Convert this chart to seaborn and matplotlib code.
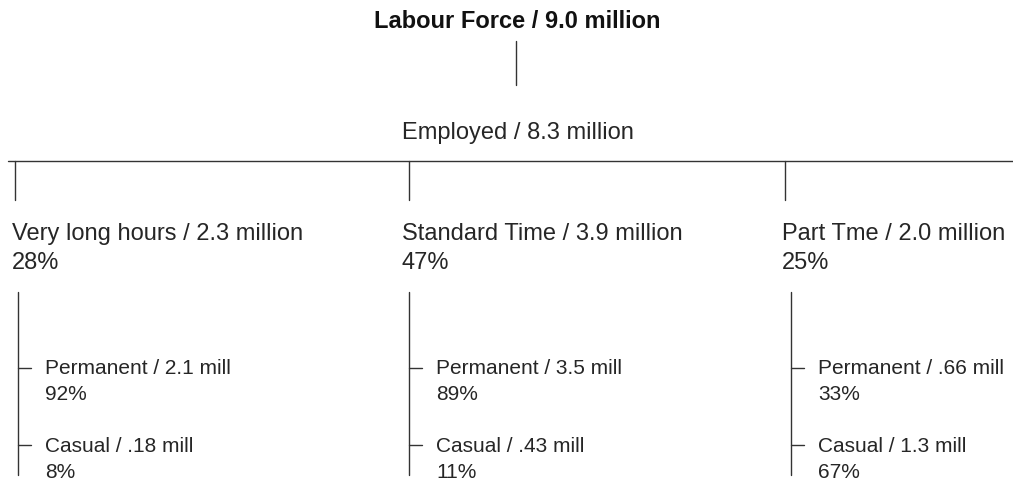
import matplotlib
matplotlib.use("Agg")
import matplotlib.pyplot as plt
import seaborn as sns

# tree data
root_label = "Labour Force"
root_value = 9.0
employed_label = "Employed"
employed_value = 8.3

groups = ["Very long hours", "Standard Time", "Part Tme"]
group_values = [2.3, 3.9, 2.0]
group_pct = [28, 47, 25]

sub_labels = ["Permanent", "Casual"]
sub_values = [["2.1", ".18"], ["3.5", ".43"], [".66", "1.3"]]
sub_pct = [[92, 8], [89, 11], [33, 67]]

sns.set_theme(style="white")
plt.rcParams["font.family"] = ["Liberation Sans", "DejaVu Sans"]

W, H = 1013, 482
fig = plt.figure(figsize=(W / 100, H / 100), dpi=100)
ax = fig.add_axes([0, 0, 1, 1])
ax.set_xlim(0, W)
ax.set_ylim(H, 0)
ax.axis("off")

txt = "#262626"
ln = "#333333"
lw = 1.0

# root
ax.text(517, 21, f"{root_label} / {root_value:.1f} million", ha="center", va="center",
        fontsize=17, fontweight="bold", color="#111111")
ax.plot([516, 516], [41, 85], color=ln, lw=lw)

# employed
ax.text(518, 133, f"{employed_label} / {employed_value:.1f} million", ha="center", va="center",
        fontsize=17, color=txt)
ax.plot([8, W], [161, 161], color=ln, lw=lw)

# horizontal layout of the three branches
tick_x = [15, 409, 785]
label_x = [12, 402, 782]
stem_x = [18, 409, 791]

for i, g in enumerate(groups):
    ax.plot([tick_x[i], tick_x[i]], [161, 200], color=ln, lw=lw)
    ax.text(label_x[i], 234, f"{g} / {group_values[i]:.1f} million", ha="left", va="center",
            fontsize=17, color=txt)
    ax.text(label_x[i], 263, f"{group_pct[i]}%", ha="left", va="center", fontsize=17, color=txt)

    # sub branches
    vx = stem_x[i]
    ax.plot([vx, vx], [292, 475], color=ln, lw=lw)
    for j, s in enumerate(sub_labels):
        y0 = 368 + j * 77
        ax.plot([vx, vx + 13], [y0, y0], color=ln, lw=lw)
        ax.text(vx + 27, y0 + 1, f"{s} / {sub_values[i][j]} mill", ha="left", va="center",
                fontsize=15, color=txt)
        ax.text(vx + 27, y0 + 27, f"{sub_pct[i][j]}%", ha="left", va="center",
                fontsize=15, color=txt)

fig.savefig("out.png", dpi=100)
